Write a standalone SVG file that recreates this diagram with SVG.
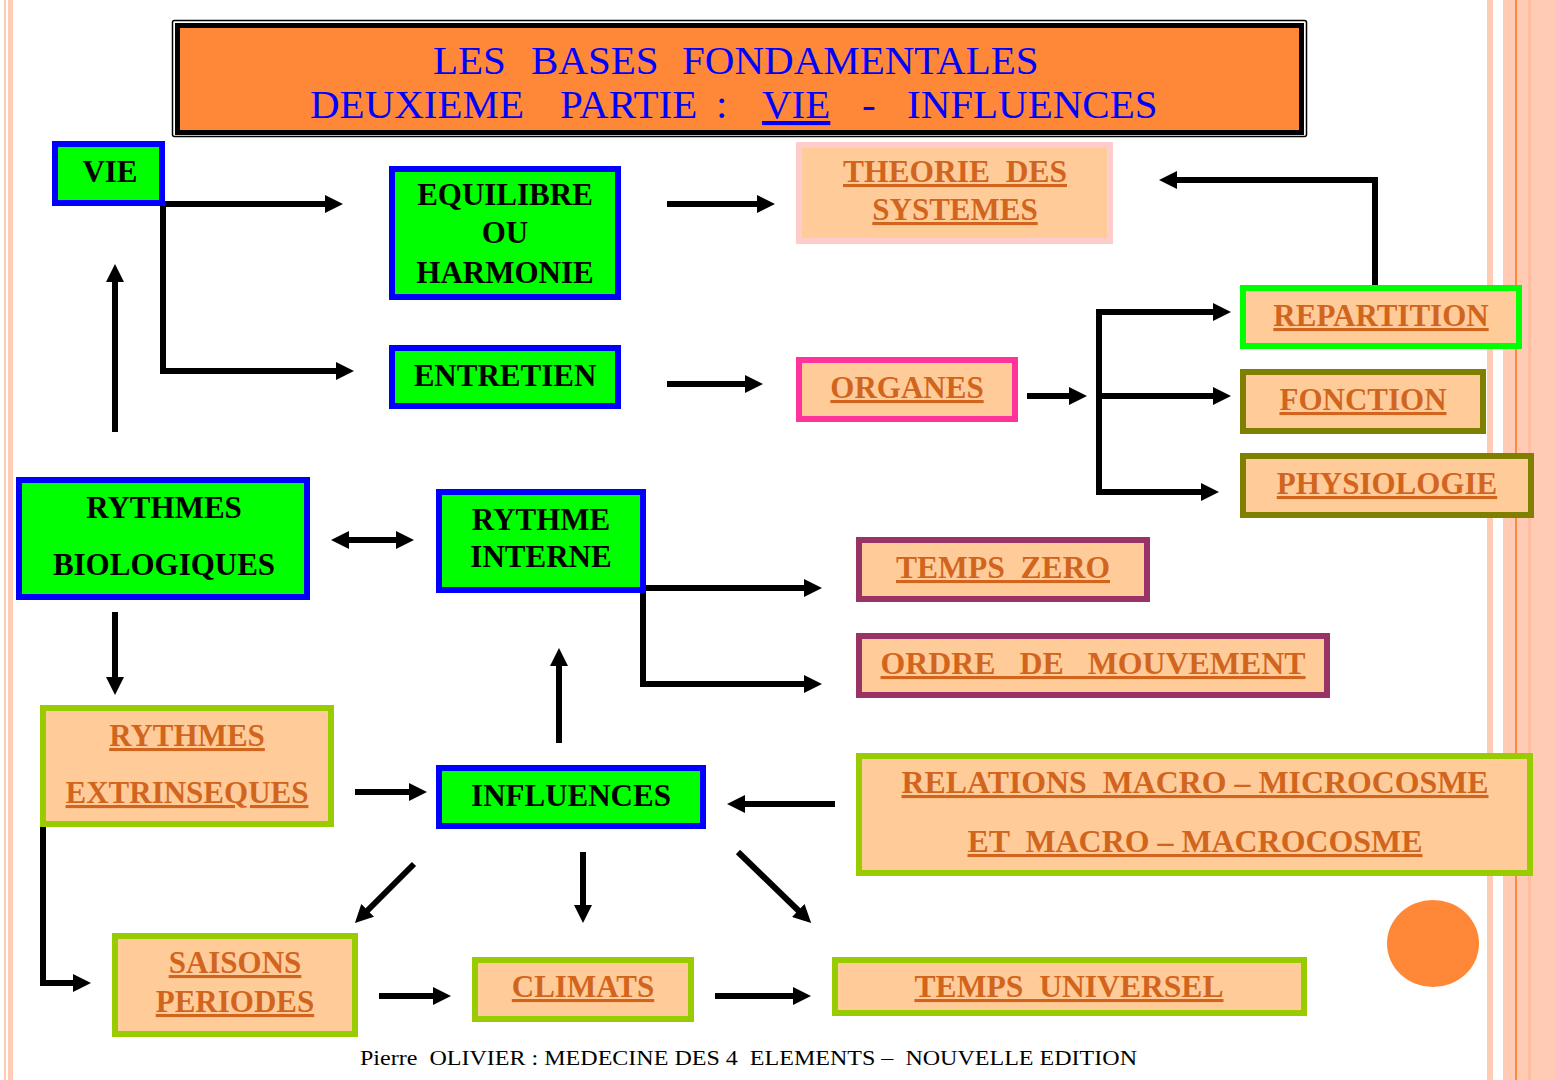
<svg xmlns="http://www.w3.org/2000/svg" width="1555" height="1080" viewBox="0 0 1555 1080">
<defs>
<style>
.bg{fill:#FFCBB5}
.g rect{stroke-width:6}
.gb{fill:#00FF00;stroke:#0000FF}
.pe{fill:#FFCC99}
.tk{font-family:"Liberation Serif","Times New Roman",serif;font-weight:bold;font-size:31px;fill:#000;text-anchor:middle}
.to{font-family:"Liberation Serif","Times New Roman",serif;font-weight:bold;font-size:31px;fill:#D2651E;text-anchor:middle;text-decoration:underline}
.ttl{font-family:"Liberation Serif","Times New Roman",serif;font-size:41px;fill:#0000FF}
.cn path{fill:none;stroke:#000;stroke-width:6;stroke-linejoin:miter}
</style>
<marker id="ah" viewBox="0 0 18 18" refX="8" refY="9" markerWidth="18" markerHeight="18" markerUnits="userSpaceOnUse" orient="auto-start-reverse">
<path d="M0,0 L18,9 L0,18 z" fill="#000"/>
</marker>
</defs>
<rect width="1555" height="1080" fill="#FFFFFF"/>
<g id="stripes">
<rect class="bg" x="4" y="0" width="2" height="1080"/>
<rect class="bg" x="8" y="0" width="5" height="1080"/>
<rect class="bg" x="1487" y="0" width="6" height="1080"/>
<rect class="bg" x="1503" y="0" width="52" height="1080"/>
<rect x="1528" y="0" width="3" height="1080" fill="#FFBEA2"/>
<rect x="1515" y="0" width="2" height="1080" fill="#FF8838"/>
</g>
<g id="title">
<rect x="172.5" y="20.5" width="1134" height="116" fill="none" stroke="#000" stroke-width="1.5" rx="2"/>
<rect x="177.5" y="25.5" width="1124" height="107" fill="#FF8838" stroke="#000" stroke-width="5"/>
<text class="ttl" y="74"><tspan x="433">LES</tspan><tspan x="531">BASES</tspan><tspan x="682">FONDAMENTALES</tspan></text>
<text class="ttl" y="118"><tspan x="310">DEUXIEME</tspan><tspan x="560">PARTIE</tspan><tspan x="716">:</tspan><tspan x="762" text-decoration="underline">VIE</tspan><tspan x="862">-</tspan><tspan x="907">INFLUENCES</tspan></text>
</g>
<g id="connectors" class="cn">
<path d="M333,204 L163,204 L163,371 L344,371" marker-start="url(#ah)" marker-end="url(#ah)"/>
<path d="M115,432 L115,274" marker-end="url(#ah)"/>
<path d="M667,204 L765,204" marker-end="url(#ah)"/>
<path d="M667,384 L753,384" marker-end="url(#ah)"/>
<path d="M1027,396 L1077,396" marker-end="url(#ah)"/>
<path d="M1221,312 L1099,312 L1099,492 L1209,492" marker-start="url(#ah)" marker-end="url(#ah)"/>
<path d="M1099,396 L1221,396" marker-end="url(#ah)"/>
<path d="M1375,287 L1375,180 L1169,180" marker-end="url(#ah)"/>
<path d="M341,540 L404,540" marker-start="url(#ah)" marker-end="url(#ah)"/>
<path d="M812,588 L643,588 L643,684 L812,684" marker-start="url(#ah)" marker-end="url(#ah)"/>
<path d="M115,612 L115,685" marker-end="url(#ah)"/>
<path d="M559,743 L559,658" marker-end="url(#ah)"/>
<path d="M355,792 L417,792" marker-end="url(#ah)"/>
<path d="M835,804 L737,804" marker-end="url(#ah)"/>
<path d="M414,864 L362,916" marker-end="url(#ah)"/>
<path d="M583,852 L583,913" marker-end="url(#ah)"/>
<path d="M738,852 L804,916" marker-end="url(#ah)"/>
<path d="M43,827 L43,983 L81,983" marker-end="url(#ah)"/>
<path d="M379,996 L441,996" marker-end="url(#ah)"/>
<path d="M715,996 L801,996" marker-end="url(#ah)"/>
</g>
<g id="n-vie" class="g"><rect class="gb" x="55" y="144" width="107" height="59"/><text class="tk" x="110" y="182">VIE</text></g>
<g id="n-equilibre" class="g"><rect class="gb" x="392" y="169" width="226" height="128"/><text class="tk" x="505" y="205">EQUILIBRE</text><text class="tk" x="505" y="243">OU</text><text class="tk" x="505" y="283">HARMONIE</text></g>
<g id="n-theorie" class="g"><rect class="pe" x="799" y="145" width="311" height="96" stroke="#FFCCCC"/><text class="to" x="955" y="182" xml:space="preserve" textLength="224" lengthAdjust="spacingAndGlyphs">THEORIE  DES</text><text class="to" x="955" y="220">SYSTEMES</text></g>
<g id="n-entretien" class="g"><rect class="gb" x="392" y="348" width="226" height="58"/><text class="tk" x="505" y="386">ENTRETIEN</text></g>
<g id="n-organes" class="g"><rect class="pe" x="799" y="360" width="216" height="59" stroke="#FF3399"/><text class="to" x="907" y="398">ORGANES</text></g>
<g id="n-repartition" class="g"><rect class="pe" x="1243" y="288" width="276" height="58" stroke="#00FF00"/><text class="to" x="1381" y="326">REPARTITION</text></g>
<g id="n-fonction" class="g"><rect class="pe" x="1243" y="372" width="240" height="59" stroke="#808000"/><text class="to" x="1363" y="410">FONCTION</text></g>
<g id="n-physiologie" class="g"><rect class="pe" x="1243" y="456" width="288" height="59" stroke="#808000"/><text class="to" x="1387" y="494">PHYSIOLOGIE</text></g>
<g id="n-rythmes-bio" class="g"><rect class="gb" x="19" y="480" width="288" height="117"/><text class="tk" x="164" y="518">RYTHMES</text><text class="tk" x="164" y="575">BIOLOGIQUES</text></g>
<g id="n-rythme-interne" class="g"><rect class="gb" x="439" y="492" width="204" height="98"/><text class="tk" x="541" y="530">RYTHME</text><text class="tk" x="541" y="567">INTERNE</text></g>
<g id="n-temps-zero" class="g"><rect class="pe" x="859" y="540" width="288" height="59" stroke="#993366"/><text class="to" x="1003" y="578" xml:space="preserve" textLength="214" lengthAdjust="spacingAndGlyphs">TEMPS  ZERO</text></g>
<g id="n-ordre" class="g"><rect class="pe" x="859" y="636" width="468" height="59" stroke="#993366"/><text class="to" x="1093" y="674" xml:space="preserve" textLength="425" lengthAdjust="spacingAndGlyphs">ORDRE   DE   MOUVEMENT</text></g>
<g id="n-rythmes-ext" class="g"><rect class="pe" x="43" y="708" width="288" height="116" stroke="#99CC00"/><text class="to" x="187" y="746">RYTHMES</text><text class="to" x="187" y="803">EXTRINSEQUES</text></g>
<g id="n-influences" class="g"><rect class="gb" x="439" y="768" width="264" height="58"/><text class="tk" x="571" y="806">INFLUENCES</text></g>
<g id="n-relations" class="g"><rect class="pe" x="859" y="756" width="671" height="117" stroke="#99CC00"/><text class="to" x="1195" y="793" xml:space="preserve" textLength="587" lengthAdjust="spacingAndGlyphs">RELATIONS  MACRO – MICROCOSME</text><text class="to" x="1195" y="852" xml:space="preserve" textLength="455" lengthAdjust="spacingAndGlyphs">ET  MACRO – MACROCOSME</text></g>
<g id="n-saisons" class="g"><rect class="pe" x="115" y="936" width="240" height="98" stroke="#99CC00"/><text class="to" x="235" y="973">SAISONS</text><text class="to" x="235" y="1012">PERIODES</text></g>
<g id="n-climats" class="g"><rect class="pe" x="475" y="960" width="216" height="59" stroke="#99CC00"/><text class="to" x="583" y="997">CLIMATS</text></g>
<g id="n-temps-universel" class="g"><rect class="pe" x="835" y="960" width="469" height="53" stroke="#99CC00"/><text class="to" x="1069" y="997" xml:space="preserve" textLength="309" lengthAdjust="spacingAndGlyphs">TEMPS  UNIVERSEL</text></g>
<ellipse cx="1433" cy="943.5" rx="46" ry="43.5" fill="#FF8838"/>
<text x="360" y="1065" font-family="'Liberation Serif','Times New Roman',serif" font-size="22" fill="#000" xml:space="preserve" textLength="777" lengthAdjust="spacingAndGlyphs">Pierre  OLIVIER : MEDECINE DES 4  ELEMENTS –  NOUVELLE EDITION</text>
</svg>
